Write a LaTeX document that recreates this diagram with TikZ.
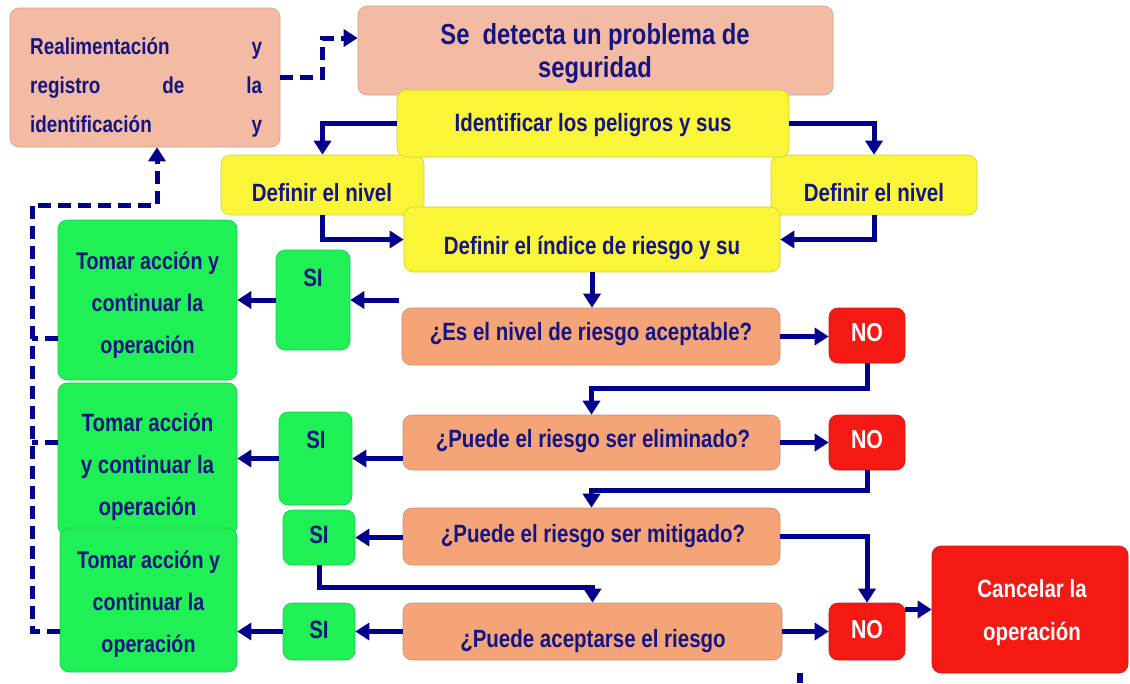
\documentclass[tikz,border=0pt]{standalone}
\usepackage{fontspec}
\setmainfont{Liberation Sans}[FakeStretch=0.82]
\usetikzlibrary{arrows.meta,calc}
\definecolor{salmon}{RGB}{243,187,163}
\definecolor{orangeq}{RGB}{245,164,120}
\definecolor{yell}{RGB}{250,245,55}
\definecolor{grn}{RGB}{30,240,85}
\definecolor{redb}{RGB}{245,25,20}
\definecolor{navyT}{RGB}{20,20,130}
\definecolor{lineB}{RGB}{0,0,140}
\tikzset{
  box/.style={rounded corners=9pt, inner sep=0pt, draw=#1!85!black, line width=0.6pt, fill=#1},
  txt/.style={text=navyT, font=\bfseries\fontsize{25}{30}\selectfont, align=center, inner sep=0pt},
  wtxt/.style={text=white, font=\bfseries\fontsize{26}{30}\selectfont, align=center, inner sep=0pt},
  arr/.style={draw=lineB, line width=5pt, -{Triangle[length=14pt,width=17pt]}},
  dsh/.style={draw=lineB, line width=5pt, dash pattern=on 13pt off 7pt},
}
\begin{document}
\begin{tikzpicture}[x=1pt,y=-1pt]
\useasboundingbox[fill=white] (0,0) rectangle (1130,683);
% boxes
\node[box=salmon, minimum width=270pt, minimum height=139pt] (real) at (145,77.5) {};
\node[box=salmon, minimum width=475pt, minimum height=89pt] (detect) at (595.5,50.5) {};
\node[box=yell, minimum width=203pt, minimum height=60pt] (defL) at (322.5,185) {};
\node[box=yell, minimum width=206pt, minimum height=60pt] (defR) at (874,185) {};
\node[box=yell, minimum width=392pt, minimum height=67pt] (ident) at (593,123.5) {};
\node[box=yell, minimum width=376pt, minimum height=65pt] (indice) at (592,239.5) {};
\node[box=orangeq, minimum width=378pt, minimum height=57pt] (es) at (591,336.5) {};
\node[box=orangeq, minimum width=377pt, minimum height=55pt] (elim) at (591.5,442.5) {};
\node[box=orangeq, minimum width=377pt, minimum height=57pt] (mitig) at (591.5,536.5) {};
\node[box=orangeq, minimum width=379pt, minimum height=57pt] (acept) at (592.5,631.5) {};
\node[box=redb, minimum width=76pt, minimum height=55pt] (no1) at (867,335.5) {};
\node[box=redb, minimum width=76pt, minimum height=55pt] (no2) at (867,442.5) {};
\node[box=redb, minimum width=76pt, minimum height=57pt] (no3) at (867,631.5) {};
\node[box=redb, minimum width=196pt, minimum height=127pt] (cancel) at (1030,609.5) {};
\node[box=grn, minimum width=74pt, minimum height=100pt] (si1) at (313,300) {};
\node[box=grn, minimum width=73pt, minimum height=93pt] (si2) at (315.5,458.5) {};
\node[box=grn, minimum width=72pt, minimum height=55pt] (si3) at (319,537.5) {};
\node[box=grn, minimum width=72pt, minimum height=57pt] (si4) at (319,631.5) {};
\node[box=grn, minimum width=179pt, minimum height=160pt] (g1) at (147.5,300) {};
\node[box=grn, minimum width=179pt, minimum height=152pt] (g2) at (147.5,459) {};
\node[box=grn, minimum width=177pt, minimum height=144pt] (g3) at (148.5,600) {};
% texts
\node[txt, anchor=west, text width=232pt, align=left, font=\bfseries\fontsize{23}{39}\selectfont] (tReal) at (30,87)
  {Realimentación\hfill y\\registro\hfill de\hfill la\\identificación\hfill y};
\node[txt, font=\bfseries\fontsize{29}{33}\selectfont] (tDetect) at (595,54) {Se\ \ detecta un problema de\\seguridad};
\node[txt] (tIdent) at (593,125) {Identificar los peligros y sus};
\node[txt] (tDefL) at (322,193) {Definir el nivel};
\node[txt] (tDefR) at (874,193) {Definir el nivel};
\node[txt] (tIndice) at (592,248) {Definir el índice de riesgo y su};
\node[txt] (tEs) at (591,334) {¿Es el nivel de riesgo aceptable?};
\node[txt] (tElim) at (593,441) {¿Puede el riesgo ser eliminado?};
\node[txt] (tMitig) at (593,536) {¿Puede el riesgo ser mitigado?};
\node[txt] (tAcept) at (593,641) {¿Puede aceptarse el riesgo};
\node[wtxt] (tNo1) at (867,333) {NO};
\node[wtxt] (tNo2) at (867,440) {NO};
\node[wtxt] (tNo3) at (867,630) {NO};
\node[wtxt, font=\bfseries\fontsize{25}{43}\selectfont] (tCancel) at (1032,613) {Cancelar la\\operación};
\node[txt] (tSi1) at (313,278) {SI};
\node[txt] (tSi2) at (316,440) {SI};
\node[txt] (tSi3) at (319,535) {SI};
\node[txt] (tSi4) at (319,630) {SI};
\node[txt, font=\bfseries\fontsize{24}{42}\selectfont] (tG1) at (147.5,305) {Tomar acción y\\continuar la\\operación};
\node[txt, font=\bfseries\fontsize{25}{42}\selectfont] (tG2) at (147.5,467) {Tomar acción\\y continuar la\\operación};
\node[txt, font=\bfseries\fontsize{24}{42}\selectfont] (tG3) at (148.5,604) {Tomar acción y\\continuar la\\operación};
% connectors
\draw[arr] (ident.west) -| (defL.north);
\draw[arr] (ident.east) -| (defR.north);
\draw[arr] (defL.south) |- (indice.west);
\draw[arr] (defR.south) |- (indice.east);
\draw[arr] (indice.south) -- (indice.south |- es.north);
\draw[arr] (es.east) -- (es.east -| no1.west);
\draw[arr] (no1.south) -- ++(0,25) -| (elim.north);
\draw[arr] (elim.east) -- (elim.east -| no2.west);
\draw[arr] (no2.south) -- ++(0,20) -| (mitig.north);
\draw[arr] (mitig.east) -| (no3.north);
\draw[arr] (acept.east) -- (acept.east -| no3.west);
\draw[arr] (no3.east |- cancel.west) -- (cancel.west);
\coordinate (esL) at (399,300);
\draw[arr] (esL) -- (si1.east |- esL);
\draw[arr] (si1.west) -- (g1.east |- si1.west);
\draw[arr] (elim.west |- si2.east) -- (si2.east);
\draw[arr] (si2.west) -- (g2.east |- si2.west);
\draw[arr] (mitig.west |- si3.east) -- (si3.east);
\draw[arr] (si3.south) -- ++(0,22) -| (acept.north);
\draw[arr] (acept.west |- si4.east) -- (si4.east);
\draw[arr] (si4.west) -- (g3.east |- si4.west);
% dashed feedback
\coordinate (dA) at (32,205);
\draw[dsh, -{Triangle[length=14pt,width=17pt]}] (g3.west |- si4.west) -| (dA) -| ([xshift=12pt]real.south);
\draw[dsh] ([yshift=-38pt]g1.west) -- ([yshift=-38pt]g1.west -| dA);
\draw[dsh] ([yshift=17pt]g2.west) -- ([yshift=17pt]g2.west -| dA);
\draw[dsh, -{Triangle[length=14pt,width=17pt]}] (real.east) -- ++(42,0) |- ([yshift=12.5pt]detect.west);
% stray mark at bottom
\fill[lineB] (797,673) rectangle (803,683);
\end{tikzpicture}
\end{document}
